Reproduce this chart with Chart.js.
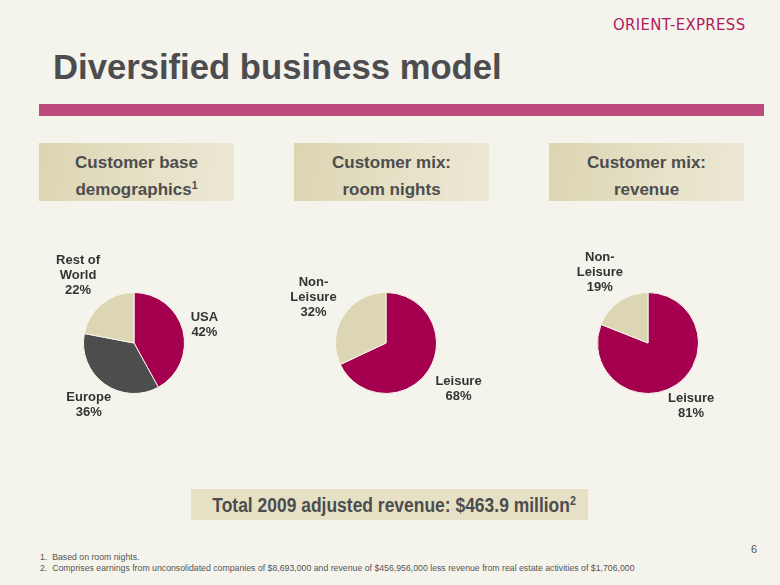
<!DOCTYPE html>
<html>
<head>
<meta charset="utf-8">
<script src="https://cdn.jsdelivr.net/npm/chart.js@4/dist/chart.umd.min.js"></script>
<style>
    html, body { margin: 0; padding: 0; }
    body {
        width: 780px; height: 585px; position: relative; overflow: hidden;
        background: #f5f4ec; font-family: "Liberation Sans", Arial, sans-serif; color: #4d4d4f;
    }
    .logo {
        position: absolute; left: 613px; top: 15px; font-size: 16px; letter-spacing: 0.4px;
        color: #b0195e; font-family: "DejaVu Sans", sans-serif; font-weight: normal;
        transform: scaleX(0.93); transform-origin: left top;
    }
    .title {
        position: absolute; left: 53px; top: 47px; font-size: 35px; font-weight: bold; color: #4d4d4f;
        transform: scaleX(0.99); transform-origin: left top;
    }
    .rule { position: absolute; left: 39px; top: 104px; width: 725px; height: 12px; background: #bc4a7c; }
    .head {
        position: absolute; top: 143px; width: 195px; height: 58px;
        background: linear-gradient(100deg, #dbd5b2 0%, #e7e2c8 60%, #ece8d4 100%);
        text-align: center; font-weight: bold; font-size: 17px; line-height: 27px; padding-top: 6px;
        box-sizing: border-box; color: #4d4d4f;
    }
    sup { font-size: 62%; line-height: 0; vertical-align: 0.6em; }
    .pie { position: absolute; top: 243px; width: 240px; height: 200px; }
    .total {
        position: absolute; left: 191px; top: 489px; width: 397px; height: 31px;
        background: #e6e1c5; text-align: center; font-weight: bold; font-size: 19.5px; line-height: 32px;
        color: #4d4d4f; white-space: nowrap;
    }
    .total span { display: inline-block; transform: scaleX(0.895); }
    .notes {
        position: absolute; left: 40px; top: 551px; font-size: 9.6px; line-height: 11px; color: #555;
        white-space: nowrap; transform: scaleX(0.91); transform-origin: left top;
    }
    .page { position: absolute; left: 751px; top: 543px; font-size: 11px; color: #555; }
</style>
</head>
<body>
<div class="logo">ORIENT-EXPRESS</div>
<div class="title">Diversified business model</div>
<div class="rule"></div>

<div class="head" style="left:39px">Customer base<br>demographics<sup>1</sup></div>
<div class="head" style="left:294px">Customer mix:<br>room nights</div>
<div class="head" style="left:549px">Customer mix:<br>revenue</div>

<canvas id="pie-demo" class="pie" style="left:14px" width="240" height="200"></canvas>
<canvas id="pie-nights" class="pie" style="left:266px" width="240" height="200"></canvas>
<canvas id="pie-revenue" class="pie" style="left:528px" width="240" height="200"></canvas>

<div class="total"><span>Total 2009 adjusted revenue: $463.9 million<sup>2</sup></span></div>
<div class="notes">
    1.&nbsp; Based on room nights.<br>
    2.&nbsp; Comprises earnings from unconsolidated companies of $8,693,000 and revenue of $456,956,000 less revenue from real estate activities of $1,706,000
</div>
<div class="page">6</div>

<script>
// Customer base demographics (room nights)
const demoLabels = [['USA'], ['Europe'], ['Rest of', 'World']];
const demoValues = [42, 36, 22];

// Customer mix: room nights
const nightsLabels = [['Leisure'], ['Non-', 'Leisure']];
const nightsValues = [68, 32];

// Customer mix: revenue
const revenueLabels = [['Leisure'], ['Non-', 'Leisure']];
const revenueValues = [81, 19];

const MAGENTA = '#a5004f';
const DARK = '#4d4d4d';
const BEIGE = '#ddd6b5';

// Draws "Name / NN%" outside each slice, along the slice's mid angle
const outsideLabels = {
    id: 'outsideLabels',
    afterDraw(chart) {
        const ctx = chart.ctx;
        const meta = chart.getDatasetMeta(0);
        const values = chart.data.datasets[0].data;
        const lineH = 15;
        ctx.save();
        ctx.font = 'bold 13px "Liberation Sans", Arial, sans-serif';
        ctx.fillStyle = '#333333';
        ctx.textAlign = 'center';
        ctx.textBaseline = 'middle';
        meta.data.forEach((arc, i) => {
            const lines = chart.data.labels[i].concat([values[i] + '%']);
            const w = Math.max(...lines.map(l => ctx.measureText(l).width));
            const h = lines.length * lineH;
            const mid = (arc.startAngle + arc.endAngle) / 2;
            const ux = Math.cos(mid), uy = Math.sin(mid);
            const edge = Math.min(
                Math.abs(ux) > 0.01 ? (w / 2) / Math.abs(ux) : 1e9,
                Math.abs(uy) > 0.01 ? (h / 2) / Math.abs(uy) : 1e9
            );
            const dist = arc.outerRadius + 8 + edge;
            const cx = arc.x + ux * dist;
            const cy = arc.y + uy * dist;
            lines.forEach((line, k) => {
                ctx.fillText(line, cx, cy - h / 2 + lineH * (k + 0.5));
            });
        });
        ctx.restore();
    }
};

function makePie(id, labels, values, colors) {
    return new Chart(document.getElementById(id), {
        type: 'pie',
        data: {
            labels: labels,
            datasets: [{
                data: values,
                backgroundColor: colors,
                borderColor: '#f5f4ec',
                borderWidth: 1
            }]
        },
        options: {
            responsive: false,
            animation: false,
            layout: { padding: { left: 69, right: 69, top: 49, bottom: 49 } },
            plugins: {
                legend: { display: false },
                tooltip: { enabled: false }
            }
        },
        plugins: [outsideLabels]
    });
}

makePie('pie-demo', demoLabels, demoValues, [MAGENTA, DARK, BEIGE]);
makePie('pie-nights', nightsLabels, nightsValues, [MAGENTA, BEIGE]);
makePie('pie-revenue', revenueLabels, revenueValues, [MAGENTA, BEIGE]);
</script>
</body>
</html>
